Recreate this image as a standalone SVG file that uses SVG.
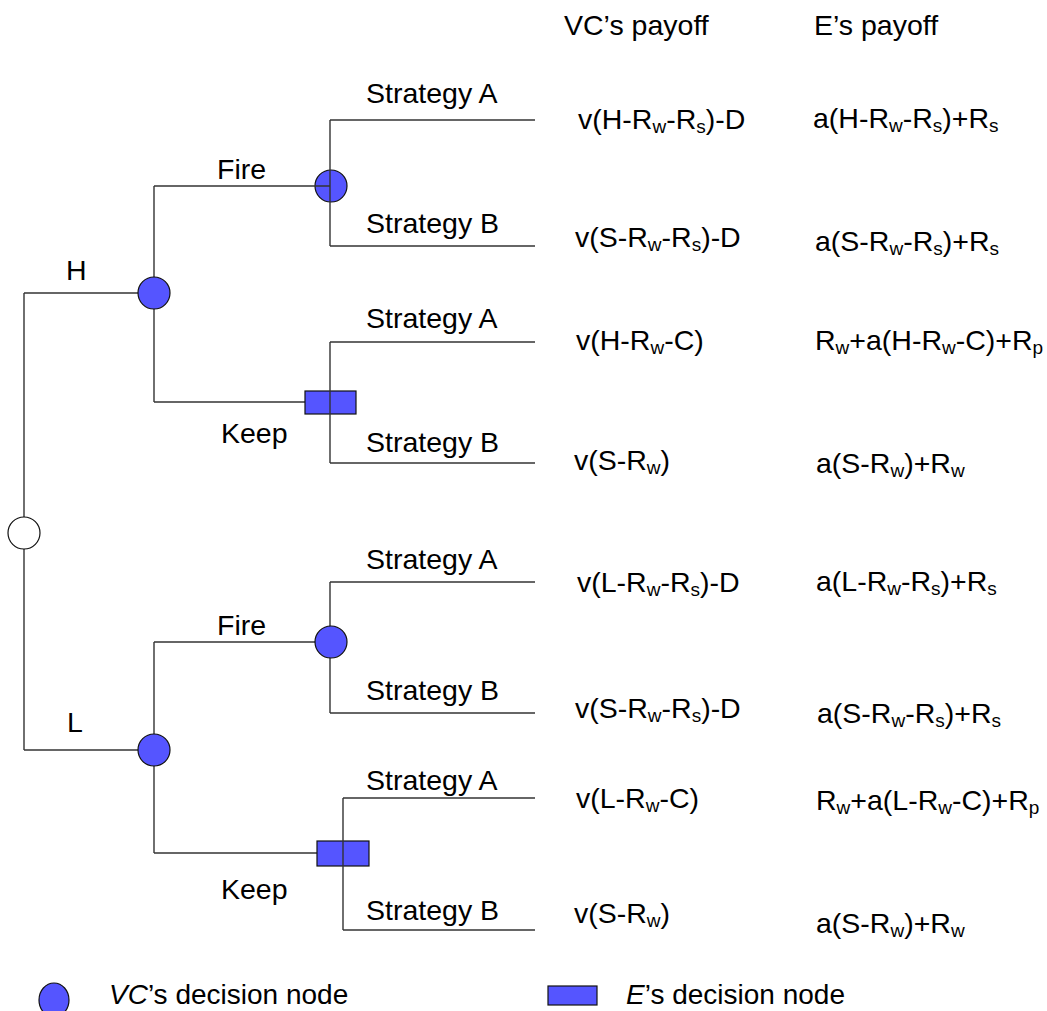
<svg xmlns="http://www.w3.org/2000/svg" width="1047" height="1011" viewBox="0 0 1047 1011">
<style>
text{font-family:"Liberation Sans",Arial,sans-serif;font-size:28.5px;fill:#000}
.s{font-size:19px}
.ln{stroke:#333;stroke-width:1.4;fill:none}
.vc{fill:#5555ff;stroke:#111;stroke-width:1.2}
.ch{fill:#fff;stroke:#111;stroke-width:1.2}
.lg{font-size:28px}
</style>
<rect width="1047" height="1011" fill="#fff"/>
<g id="connectors">
<polyline class="ln" points="24,293 24,750"/>
<polyline class="ln" points="24,293 154,293"/>
<polyline class="ln" points="24,750 154,750"/>
<polyline class="ln" points="154,186 154,402"/>
<polyline class="ln" points="154,642 154,853"/>
<polyline class="ln" points="154,402 305,402"/>
<polyline class="ln" points="154,853 317,853"/>
<polyline class="ln" points="154,642 330,642"/>
<polyline class="ln" points="330,582 330,713"/>
<polyline class="ln" points="330,582 535,582"/>
<polyline class="ln" points="330,713 535,713"/>
<polyline class="ln" points="330,120 535,120"/>
<polyline class="ln" points="330,246 535,246"/>
<polyline class="ln" points="330,342 535,342"/>
<polyline class="ln" points="330,463 535,463"/>
<polyline class="ln" points="343,798 535,798"/>
<polyline class="ln" points="343,930 535,930"/>
</g>
<g id="root"><circle class="ch" cx="24" cy="533" r="16"/></g>
<g id="nodeH"><circle class="vc" cx="154" cy="293" r="16"/></g>
<g id="nodeL"><circle class="vc" cx="154" cy="750" r="16"/></g>
<g id="fireH"><circle class="vc" cx="331" cy="186" r="16"/>
<polyline class="ln" points="154,186 330,186"/><polyline class="ln" points="330,120 330,246"/></g>
<g id="fireL"><circle class="vc" cx="331" cy="642" r="16"/></g>
<g id="keepH"><rect class="vc" x="305" y="391" width="51" height="23"/><polyline class="ln" points="330,342 330,463"/></g>
<g id="keepL"><rect class="vc" x="317" y="841" width="52" height="25"/><polyline class="ln" points="343,798 343,930"/></g>
<g id="labels">
<text x="66" y="280">H</text>
<text x="67" y="732">L</text>
<text x="217" y="179">Fire</text>
<text x="217" y="635">Fire</text>
<text x="221" y="443">Keep</text>
<text x="221" y="899">Keep</text>
<text x="366" y="103">Strategy A</text>
<text x="366" y="233">Strategy B</text>
<text x="366" y="328">Strategy A</text>
<text x="366" y="452">Strategy B</text>
<text x="366" y="569">Strategy A</text>
<text x="366" y="700">Strategy B</text>
<text x="366" y="790">Strategy A</text>
<text x="366" y="920">Strategy B</text>
<text x="564" y="35">VC’s payoff</text>
<text x="814" y="35">E’s payoff</text>
</g>
<g id="payoffs">
<text x="578" y="129">v(H-R<tspan class="s" dy="4">w</tspan><tspan dy="-4">-R</tspan><tspan class="s" dy="4">s</tspan><tspan dy="-4">)-D</tspan></text>
<text x="813" y="128">a(H-R<tspan class="s" dy="4">w</tspan><tspan dy="-4">-R</tspan><tspan class="s" dy="4">s</tspan><tspan dy="-4">)+R</tspan><tspan class="s" dy="4">s</tspan></text>
<text x="575" y="247">v(S-R<tspan class="s" dy="4">w</tspan><tspan dy="-4">-R</tspan><tspan class="s" dy="4">s</tspan><tspan dy="-4">)-D</tspan></text>
<text x="815" y="251">a(S-R<tspan class="s" dy="4">w</tspan><tspan dy="-4">-R</tspan><tspan class="s" dy="4">s</tspan><tspan dy="-4">)+R</tspan><tspan class="s" dy="4">s</tspan></text>
<text x="576" y="350">v(H-R<tspan class="s" dy="4">w</tspan><tspan dy="-4">-C)</tspan></text>
<text x="815" y="350">R<tspan class="s" dy="4">w</tspan><tspan dy="-4">+a(H-R</tspan><tspan class="s" dy="4">w</tspan><tspan dy="-4">-C)+R</tspan><tspan class="s" dy="4">p</tspan></text>
<text x="574" y="470">v(S-R<tspan class="s" dy="4">w</tspan><tspan dy="-4">)</tspan></text>
<text x="816" y="473">a(S-R<tspan class="s" dy="4">w</tspan><tspan dy="-4">)+R</tspan><tspan class="s" dy="4">w</tspan></text>
<text x="577" y="592">v(L-R<tspan class="s" dy="4">w</tspan><tspan dy="-4">-R</tspan><tspan class="s" dy="4">s</tspan><tspan dy="-4">)-D</tspan></text>
<text x="816" y="591">a(L-R<tspan class="s" dy="4">w</tspan><tspan dy="-4">-R</tspan><tspan class="s" dy="4">s</tspan><tspan dy="-4">)+R</tspan><tspan class="s" dy="4">s</tspan></text>
<text x="575" y="718">v(S-R<tspan class="s" dy="4">w</tspan><tspan dy="-4">-R</tspan><tspan class="s" dy="4">s</tspan><tspan dy="-4">)-D</tspan></text>
<text x="817" y="723">a(S-R<tspan class="s" dy="4">w</tspan><tspan dy="-4">-R</tspan><tspan class="s" dy="4">s</tspan><tspan dy="-4">)+R</tspan><tspan class="s" dy="4">s</tspan></text>
<text x="576" y="808">v(L-R<tspan class="s" dy="4">w</tspan><tspan dy="-4">-C)</tspan></text>
<text x="816" y="810">R<tspan class="s" dy="4">w</tspan><tspan dy="-4">+a(L-R</tspan><tspan class="s" dy="4">w</tspan><tspan dy="-4">-C)+R</tspan><tspan class="s" dy="4">p</tspan></text>
<text x="574" y="923">v(S-R<tspan class="s" dy="4">w</tspan><tspan dy="-4">)</tspan></text>
<text x="816" y="933">a(S-R<tspan class="s" dy="4">w</tspan><tspan dy="-4">)+R</tspan><tspan class="s" dy="4">w</tspan></text>
</g>
<g id="legend">
<ellipse class="vc" cx="54" cy="1000" rx="15" ry="17"/>
<text class="lg" x="109" y="1004"><tspan font-style="italic">VC</tspan>’s decision node</text>
<rect class="vc" x="548" y="986" width="49" height="19"/>
<text class="lg" x="626" y="1004"><tspan font-style="italic">E</tspan>’s decision node</text>
</g>
</svg>
